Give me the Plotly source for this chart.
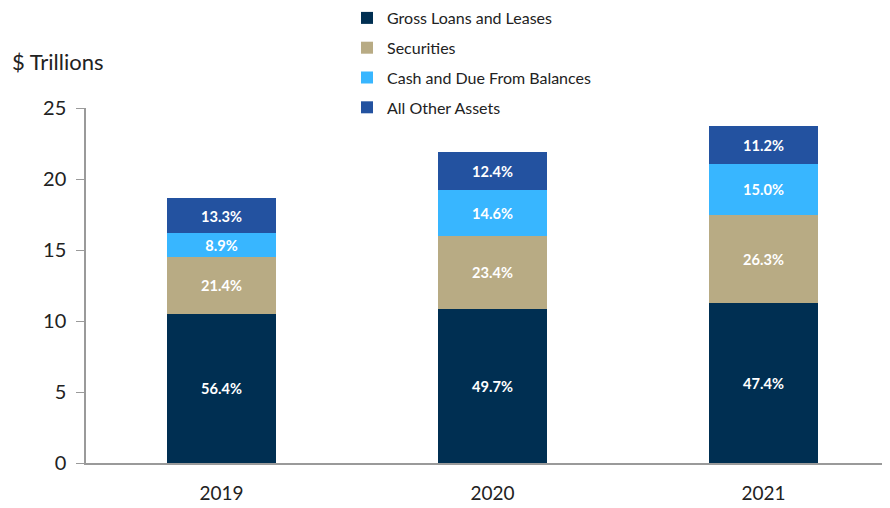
import plotly.graph_objects as go

years = ["2019", "2020", "2021"]
series = ["Gross Loans and Leases", "Securities", "Cash and Due From Balances", "All Other Assets"]
colors = ["#002f52", "#b8ab84", "#38b6ff", "#2352a0"]

# $ trillions
loans = [10.52, 10.88, 11.25]
securities = [3.99, 5.12, 6.24]
cash = [1.66, 3.20, 3.56]
other = [2.48, 2.72, 2.66]

# share of total assets shown on the bars
loans_pct = ["56.4%", "49.7%", "47.4%"]
securities_pct = ["21.4%", "23.4%", "26.3%"]
cash_pct = ["8.9%", "14.6%", "15.0%"]
other_pct = ["13.3%", "12.4%", "11.2%"]

values = [loans, securities, cash, other]
labels = [loans_pct, securities_pct, cash_pct, other_pct]

font = "Lato, 'Open Sans', sans-serif"

# page body adds an 8px margin, so the figure is 8px smaller each way
W, H = 882, 500
L, T, B = 78, 100, 45
pw, ph = W - L, H - T - B

fig = go.Figure()
for name, vals, txt, col in zip(series, values, labels, colors):
    fig.add_trace(go.Bar(
        x=years, y=vals, name=name, text=txt, legendgroup=name,
        marker=dict(color=col, line=dict(width=0)),
        textposition="inside", insidetextanchor="middle", textangle=0,
        textfont=dict(color="white", size=15, family=font, weight="bold"),
        hoverinfo="skip",
    ))

fig.update_layout(
    barmode="stack",
    bargap=0.598,
    width=W, height=H,
    margin=dict(l=L, r=0, t=T, b=B, autoexpand=False),
    plot_bgcolor="white", paper_bgcolor="white",
    font=dict(family=font, color="#222222"),
    showlegend=True,
    legend=dict(
        x=(339 - L) / pw, y=(ph + T + 7) / ph, xref="paper", yref="paper",
        xanchor="left", yanchor="top",
        traceorder="grouped", tracegroupgap=6,
        font=dict(size=16, family=font, color="#222222"),
        itemwidth=30,
        bgcolor="rgba(0,0,0,0)",
    ),
    uniformtext=dict(minsize=10, mode="show"),
    annotations=[dict(
        text="$ Trillions", xref="paper", yref="paper",
        x=(2 - L) / pw, y=(ph + T - 54) / ph, xanchor="left", yanchor="middle",
        showarrow=False, font=dict(size=22, family=font, color="#222222"),
    )],
)

fig.update_yaxes(
    range=[0, 25], dtick=5, showgrid=False, zeroline=False,
    showline=True, linecolor="#9a9a9a", linewidth=1.5,
    ticks="outside", ticklen=8, tickcolor="#9a9a9a", ticklabelstandoff=6,
    tickfont=dict(size=20, family=font, color="#222222"),
)
fig.update_xaxes(
    range=[-0.5, 2.467],
    showline=True, linecolor="#9a9a9a", linewidth=1.5, ticks="",
    ticklabelstandoff=12,
    tickfont=dict(size=19, family=font, color="#222222"),
)

fig.write_html("out.html")
